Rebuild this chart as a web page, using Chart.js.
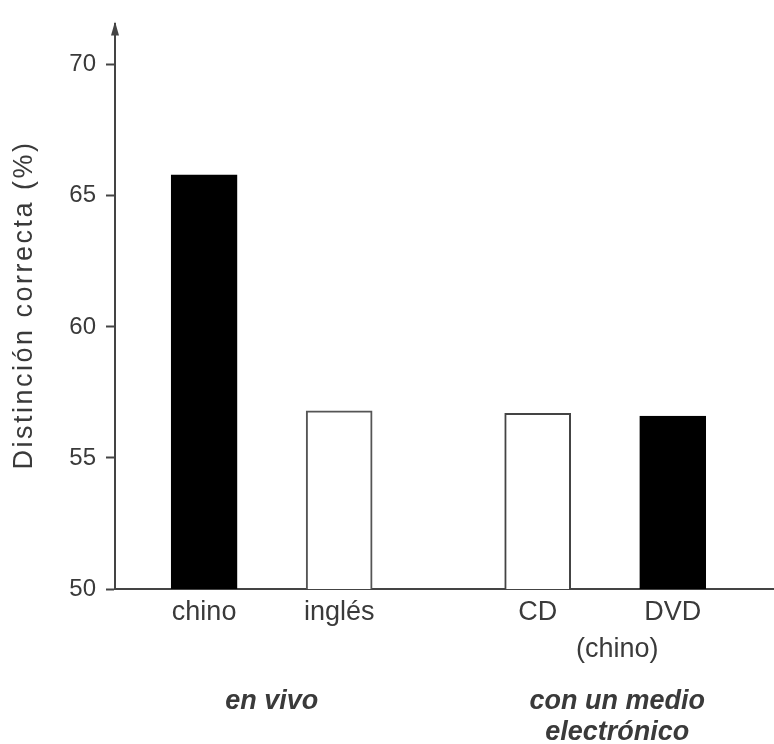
<!DOCTYPE html>
<html>
<head>
<meta charset="utf-8">
<script src="https://cdn.jsdelivr.net/npm/chart.js@4"></script>
<style>
  html, body { margin: 0; padding: 0; background: #fff; }
  #wrap { width: 774px; height: 744px; }
</style>
</head>
<body>
<div id="wrap"><canvas id="chart"></canvas></div>
<script>
// data
const categories = ['chino', 'inglés', 'CD', 'DVD'];
const xPositions = [1, 2, 3.47, 4.47];
const values = [65.8, 56.8, 56.7, 56.6];
const yTicks = [50, 55, 60, 65, 70];
const yTitle = 'Distinción correcta (%)';
const groupLabels = [
  { text: ['en vivo'], from: 0, to: 1 },
  { text: ['con un medio', 'electrónico'], from: 2, to: 3 }
];
const subLabel = { text: '(chino)', from: 2, to: 3 };

const ink = '#3a3a3a';
const font = '"Liberation Sans", Arial, sans-serif';
const fills = ['#000', '#fff', '#fff', '#000'];
const borders = ['#000', '#555', '#444', '#000'];

// arrow on the y axis, y title, and the extra text under the x axis
const extras = {
  id: 'extras',
  afterDraw(chart) {
    const ctx = chart.ctx;
    const x = chart.scales.x;
    const ax = x.left;
    const top = chart.chartArea.top;
    ctx.save();
    ctx.fillStyle = '#444';
    ctx.beginPath();
    ctx.moveTo(ax, top - 3);
    ctx.lineTo(ax - 4, top + 11);
    ctx.lineTo(ax + 4, top + 11);
    ctx.closePath();
    ctx.fill();

    ctx.fillStyle = ink;
    ctx.textAlign = 'center';
    ctx.textBaseline = 'middle';

    // rotated y title, letters a bit spread like the scan
    ctx.save();
    ctx.translate(25, 305);
    ctx.rotate(-Math.PI / 2);
    ctx.font = '27px ' + font;
    ctx.letterSpacing = '2.5px';
    ctx.fillText(yTitle, 0, 0);
    ctx.restore();

    const mid = g => (x.getPixelForValue(xPositions[g.from]) + x.getPixelForValue(xPositions[g.to])) / 2;
    ctx.font = '27px ' + font;
    ctx.fillText(subLabel.text, mid(subLabel) + 12, 650);

    ctx.font = 'italic bold 27px ' + font;
    groupLabels.forEach(g => {
      g.text.forEach((t, i) => ctx.fillText(t, mid(g) + (g.text.length > 1 ? 12 : 0), 702 + i * 31));
    });
    ctx.restore();
  }
};

new Chart(document.getElementById('chart'), {
  type: 'bar',
  data: {
    datasets: [{
      data: xPositions.map((x, i) => ({ x: x, y: values[i] })),
      backgroundColor: fills,
      borderColor: borders,
      borderWidth: 2,
      borderSkipped: 'bottom',
      barThickness: 66
    }]
  },
  plugins: [extras],
  options: {
    responsive: true,
    maintainAspectRatio: false,
    animation: false,
    layout: { padding: { top: 18, right: 0, bottom: 0, left: 0 } },
    plugins: { legend: { display: false }, tooltip: { enabled: false } },
    scales: {
      x: {
        type: 'linear',
        offset: false,
        min: 0.34,
        max: 5.22,
        afterBuildTicks: axis => { axis.ticks = xPositions.map(v => ({ value: v })); },
        afterFit: axis => { axis.height = 155; },
        grid: { display: false, drawTicks: false },
        border: { color: '#444', width: 2 },
        ticks: {
          padding: 7,
          color: ink,
          maxRotation: 0,
          autoSkip: false,
          font: { family: font, size: 27 },
          callback: v => categories[xPositions.indexOf(v)]
        }
      },
      y: {
        min: 50,
        max: 71.54,
        afterBuildTicks: axis => { axis.ticks = yTicks.map(v => ({ value: v })); },
        afterFit: axis => { axis.width = 115; },
        grid: { drawOnChartArea: false, tickLength: 9, color: '#444', tickWidth: 2 },
        border: { color: '#444', width: 2 },
        ticks: {
          padding: 10,
          color: ink,
          font: { family: font, size: 24 }
        }
      }
    }
  }
});
</script>
</body>
</html>
